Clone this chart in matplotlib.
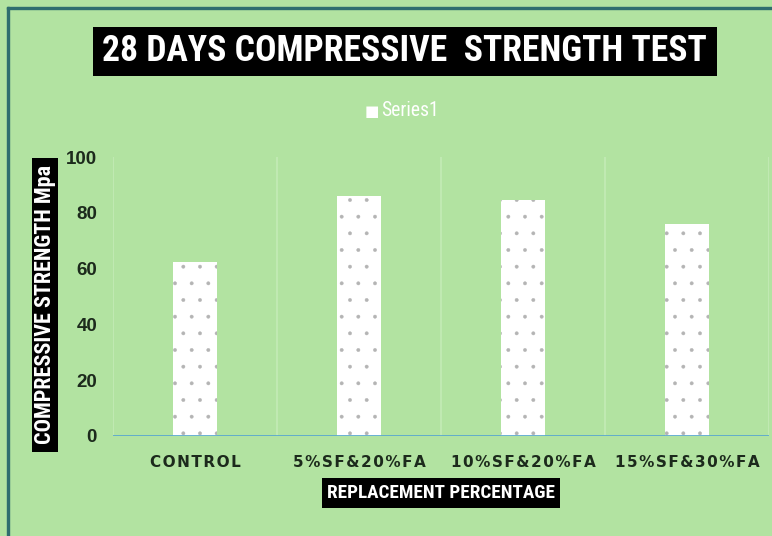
import matplotlib
matplotlib.use("Agg")
import matplotlib.pyplot as plt
import numpy as np
from matplotlib.patches import Rectangle

categories = ["CONTROL", "5%SF&20%FA", "10%SF&20%FA", "15%SF&30%FA"]
strength = [62.5, 86.0, 84.5, 76.0]
yticks = [0, 20, 40, 60, 80, 100]

BG = "#b2e3a1"
GRID = "#c4ebb6"
COND = ["Roboto Condensed", "DejaVu Sans"]
W, H = 772, 536


def fx(px):
    return px / W


def fy(py):
    return 1 - py / H


def box(x0, y0, x1, y1):
    fig.patches.append(Rectangle((fx(x0), fy(y1)), fx(x1) - fx(x0), fy(y0) - fy(y1),
                                 transform=fig.transFigure, facecolor="black",
                                 edgecolor="none", zorder=1))


def fit(t, target_px, vertical=False):
    # shrink/grow a text so that its long side is target_px wide
    r = fig.canvas.get_renderer()
    bb = t.get_window_extent(r)
    cur = bb.height if vertical else bb.width
    t.set_fontsize(t.get_fontsize() * target_px / cur)


plt.rcParams["hatch.linewidth"] = 0.3

fig = plt.figure(figsize=(W / 100, H / 100), dpi=100, facecolor=BG)
# thin dark frame on the top and left edges
fig.patches.append(Rectangle((fx(7), 0), fx(1.5), fy(7), transform=fig.transFigure,
                             color="#2f6e6e", zorder=0))
fig.patches.append(Rectangle((fx(7), fy(8.5)), 1 - fx(7), fx(1.5) * W / H,
                             transform=fig.transFigure, color="#2f6e6e", zorder=0))

ax = fig.add_axes([fx(113), fy(436), fx(656), 279 / H])
ax.set_facecolor(BG)

x = np.arange(len(categories))
ax.bar(x, strength, width=0.27, color="white", edgecolor="#b4b4b4", linewidth=0,
       hatch=".", zorder=2)

ax.set_xlim(-0.5, len(categories) - 0.5)
ax.set_ylim(0, 100)
for b in np.arange(-0.5, len(categories)):
    ax.axvline(b, color=GRID, lw=1.2, zorder=1)
ax.axhline(0, color="#5aa8cf", lw=2, zorder=3)
for s in ax.spines.values():
    s.set_visible(False)

ax.set_yticks(yticks)
ax.set_yticklabels([str(v) for v in yticks], fontsize=13.5, fontweight="bold",
                   color="#1c2a1c", family="Liberation Sans")
ax.tick_params(axis="y", length=0, pad=11.5)
ax.set_xticks(x)
ax.set_xticklabels(["\u200a".join(c) for c in categories], fontsize=11,
                   fontweight="bold", color="#1c2a1c")
ax.tick_params(axis="x", length=0, pad=14)

# title in black box
box(93, 27, 717, 76)
t = fig.text(fx(404), fy(51), "28 DAYS COMPRESSIVE  STRENGTH TEST",
             ha="center", va="center", fontsize=26, fontweight="bold", color="white",
             family=COND)
fit(t, 604)

# legend
fig.text(fx(372), fy(112), "\u25a0", ha="center", va="center", fontsize=11,
         color="white")
t = fig.text(fx(381), fy(110), "Series1", ha="left", va="center", fontsize=14,
             color="white", family=COND)
fit(t, 58)

# y label
box(32, 158, 58, 452)
t = fig.text(fx(45), fy(305), "COMPRESSIVE STRENGTH Mpa", rotation=90,
             ha="center", va="center", fontsize=12, fontweight="bold", color="white",
             family=COND)
fit(t, 280, vertical=True)

# x label
box(322, 478, 560, 508)
t = fig.text(fx(441), fy(493), "REPLACEMENT PERCENTAGE",
             ha="center", va="center", fontsize=13, fontweight="bold", color="white",
             family=COND)
fit(t, 226)

fig.savefig("out.png", dpi=100, facecolor=BG)
